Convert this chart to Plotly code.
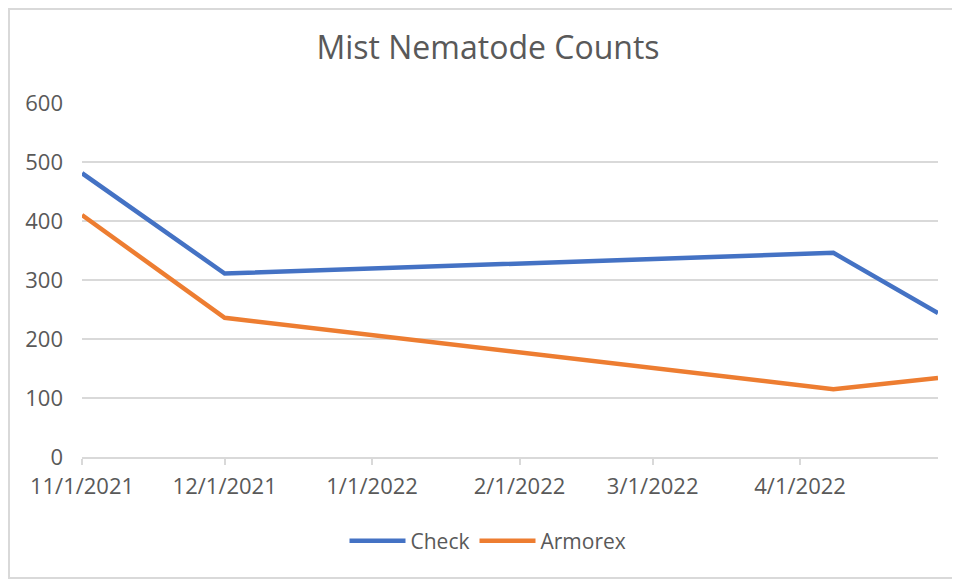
import plotly.graph_objects as go

dates = ["2021-11-01", "2021-12-01", "2022-04-08", "2022-04-30"]
check = [481, 311, 346, 244]
armorex = [410, 236, 115, 134]

tick_dates = ["2021-11-01", "2021-12-01", "2022-01-01", "2022-02-01", "2022-03-01", "2022-04-01"]
tick_text = ["11/1/2021", "12/1/2021", "1/1/2022", "2/1/2022", "3/1/2022", "4/1/2022"]

FONT = "Open Sans"
GRAY = "#595959"

fig = go.Figure()
fig.add_trace(go.Scatter(x=dates, y=check, mode="lines", name="Check",
                         line=dict(color="#4472C4", width=4.5)))
fig.add_trace(go.Scatter(x=dates, y=armorex, mode="lines", name="Armorex",
                         line=dict(color="#ED7D31", width=4.5)))

OFF = 8  # page body margin
W, H = 952, 573
# target plot-area pixel box in the screenshot
PL, PR, PT, PB = 82, 938, 103, 457
L = PL - OFF
T = PT - OFF
R = W - (PR - OFF)
B = H - (PB - OFF)
pw, ph = W - L - R, H - T - B

def px_x(p):
    return (p - PL) / pw

def px_y(p):
    return (PB - p) / ph

fig.update_layout(
    width=W, height=H,
    margin=dict(l=L, r=R, t=T, b=B),
    paper_bgcolor="white", plot_bgcolor="white",
    font=dict(family=FONT, color=GRAY, size=22),
    title=dict(text="Mist Nematode Counts", x=px_x(488), xanchor="center",
               xref="paper",
               y=1 - (48 - OFF) / H, yanchor="middle",
               font=dict(family=FONT, size=32, color=GRAY)),
    showlegend=True,
    legend=dict(orientation="h", x=px_x(488), xanchor="center",
                y=px_y(541), yanchor="middle",
                font=dict(family=FONT, size=21, color=GRAY),
                itemwidth=56, bgcolor="rgba(0,0,0,0)"),
    xaxis=dict(type="date", range=["2021-11-01", "2022-04-30"],
               tickvals=tick_dates, ticktext=tick_text,
               showgrid=False, showline=True, linecolor="#D9D9D9", linewidth=1.5,
               ticks="outside", ticklen=6, tickcolor="#D9D9D9", tickwidth=1.5,
               ticklabelstandoff=3,
               tickfont=dict(family=FONT, size=22, color=GRAY),
               zeroline=False),
    yaxis=dict(range=[0, 600], dtick=100, tick0=0,
               showgrid=True, gridcolor="#D9D9D9", gridwidth=1.5,
               zeroline=False, showline=False, ticks="",
               ticklabelstandoff=18,
               tickfont=dict(family=FONT, size=22, color=GRAY)),
    shapes=[dict(type="rect", xref="paper", yref="paper",
                 x0=px_x(9), x1=px_x(990), y0=px_y(578), y1=px_y(9),
                 line=dict(color="#D9D9D9", width=2), layer="below")],
)

fig.write_html("out.html")
